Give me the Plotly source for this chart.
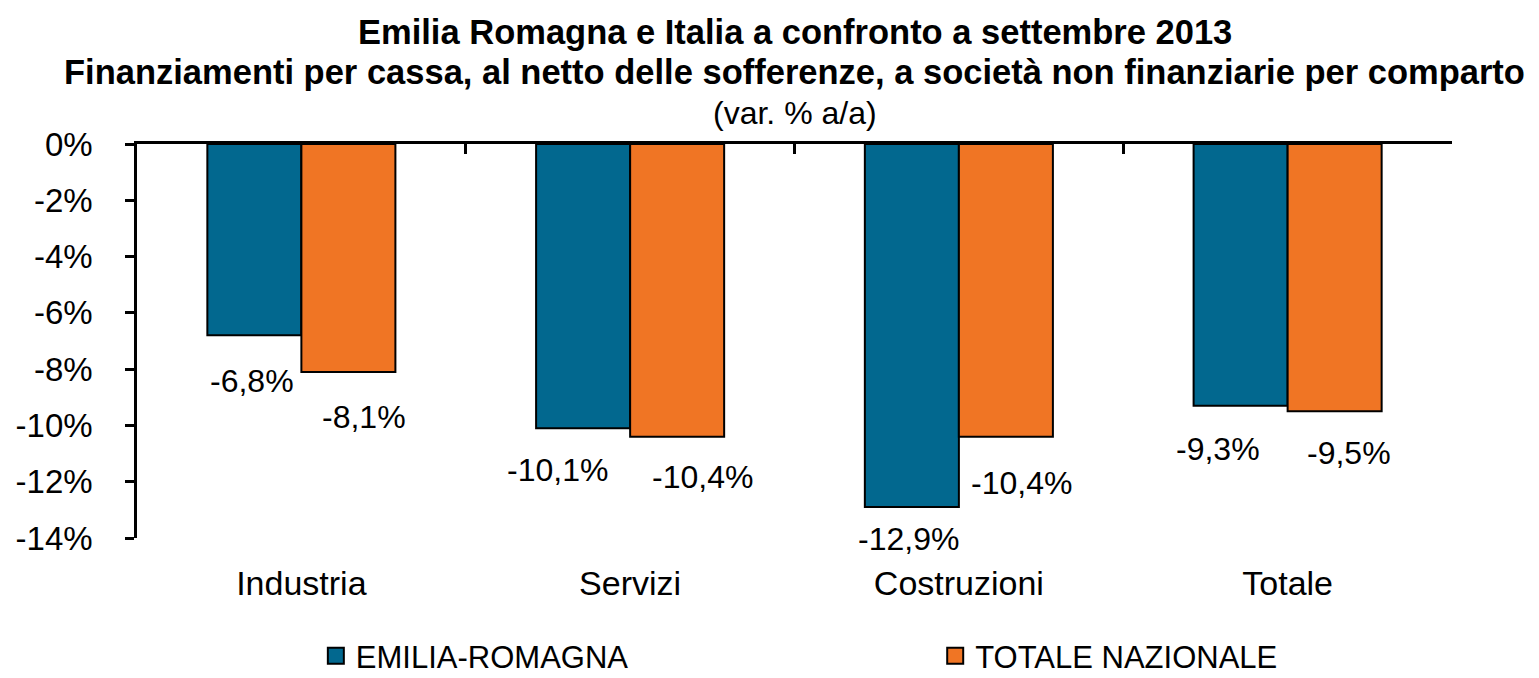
import plotly.graph_objects as go

categories = ["Industria", "Servizi", "Costruzioni", "Totale"]
emilia_romagna = [-6.8, -10.1, -12.9, -9.3]
totale_nazionale = [-8.1, -10.4, -10.4, -9.5]
series_names = ["EMILIA-ROMAGNA", "TOTALE NAZIONALE"]
y_ticks = [0, -2, -4, -6, -8, -10, -12, -14]
y_tick_labels = ["0%", "-2%", "-4%", "-6%", "-8%", "-10%", "-12%", "-14%"]
title_lines = [
    "Emilia Romagna e Italia a confronto a settembre 2013",
    "Finanziamenti per cassa, al netto delle sofferenze, a società non finanziarie per comparto",
    "(var. % a/a)",
]

BLUE = "#02688F"
ORANGE = "#F07524"
FONT = "Liberation Sans, Arial, sans-serif"

# label offsets (pixels) relative to bar centre / bar end
blue_dx = [-2, -26, -3, -23]
blue_dy = [46, 42, 32, 43]
orange_dx = [16, 25, 16, 14]
orange_dy = [45, 40, 46, 42]
HALF_BAR = 47


def fmt(v):
    return f"{v:.1f}".replace(".", ",") + "%"


fig = go.Figure()
fig.add_trace(go.Bar(x=categories, y=emilia_romagna, name=series_names[0],
                     marker=dict(color=BLUE, line=dict(color="black", width=2)),
                     showlegend=False))
fig.add_trace(go.Bar(x=categories, y=totale_nazionale, name=series_names[1],
                     marker=dict(color=ORANGE, line=dict(color="black", width=2)),
                     showlegend=False))
# legend entries (one legend box each)
for nm, col, lg in zip(series_names, [BLUE, ORANGE], ["legend", "legend2"]):
    fig.add_trace(go.Scatter(x=[None], y=[None], mode="markers", name=nm, legend=lg,
                             marker=dict(symbol="square", size=18, color=col,
                                         line=dict(color="black", width=2))))
# dummy trace for the top (zero) axis
fig.add_trace(go.Scatter(x=[None], y=[None], xaxis="x2", showlegend=False,
                         hoverinfo="skip"))

annotations = []
for i, c in enumerate(categories):
    annotations.append(dict(x=c, y=emilia_romagna[i], xref="x", yref="y",
                            text=fmt(emilia_romagna[i]), showarrow=False,
                            xanchor="center", yanchor="middle",
                            xshift=-HALF_BAR + blue_dx[i], yshift=-blue_dy[i],
                            font=dict(family=FONT, size=32, color="black")))
    annotations.append(dict(x=c, y=totale_nazionale[i], xref="x", yref="y",
                            text=fmt(totale_nazionale[i]), showarrow=False,
                            xanchor="center", yanchor="middle",
                            xshift=HALF_BAR + orange_dx[i], yshift=-orange_dy[i],
                            font=dict(family=FONT, size=32, color="black")))

title_y = [1.284, 1.182, 1.079]
title_fonts = [dict(family=FONT, size=34.5, color="black"),
               dict(family=FONT, size=34.5, color="black"),
               dict(family=FONT, size=32, color="black")]
title_texts = ["<b>" + title_lines[0] + "</b>", "<b>" + title_lines[1] + "</b>", title_lines[2]]
for t, yy, f in zip(title_texts, title_y, title_fonts):
    annotations.append(dict(x=0.5, y=yy, xref="paper", yref="paper", text=t,
                            showarrow=False, xanchor="center", yanchor="middle",
                            font=f))

legend_font = dict(family=FONT, size=31, color="black")

fig.update_layout(
    width=1539, height=678,
    margin=dict(l=137, r=87, t=144, b=140, autoexpand=False),
    paper_bgcolor="white", plot_bgcolor="white",
    barmode="group", bargap=0.428, bargroupgap=0,
    font=dict(family=FONT, color="black"),
    xaxis=dict(type="category", showline=False, ticks="", showgrid=False,
               zeroline=False, automargin=False,
               tickfont=dict(family=FONT, size=34, color="black"),
               ticklabelstandoff=22),
    xaxis2=dict(overlaying="x", side="top", range=[-0.5, 3.5],
                tickvals=[-0.5, 0.5, 1.5, 2.5, 3.5], ticks="inside", ticklen=10,
                tickwidth=2.5, tickcolor="black", showline=True, linewidth=2.5,
                linecolor="black", showticklabels=False, showgrid=False,
                zeroline=False, automargin=False),
    yaxis=dict(range=[-14, 0], tickvals=y_ticks, ticktext=y_tick_labels,
               ticks="outside", ticklen=9, tickwidth=2.5, tickcolor="black",
               showline=True, linewidth=2.5, linecolor="black", showgrid=False,
               zeroline=False, ticklabelstandoff=26, automargin=False,
               tickfont=dict(family=FONT, size=33, color="black")),
    legend=dict(orientation="h", x=0.136, xanchor="left", y=-0.30, yanchor="middle",
                font=legend_font, bgcolor="rgba(0,0,0,0)"),
    legend2=dict(orientation="h", x=0.607, xanchor="left", y=-0.30, yanchor="middle",
                 font=legend_font, bgcolor="rgba(0,0,0,0)"),
    annotations=annotations,
    showlegend=True,
)

fig.write_html("out.html", config={"displayModeBar": False},
               post_script="document.body.style.margin='0';document.body.style.padding='0';")
